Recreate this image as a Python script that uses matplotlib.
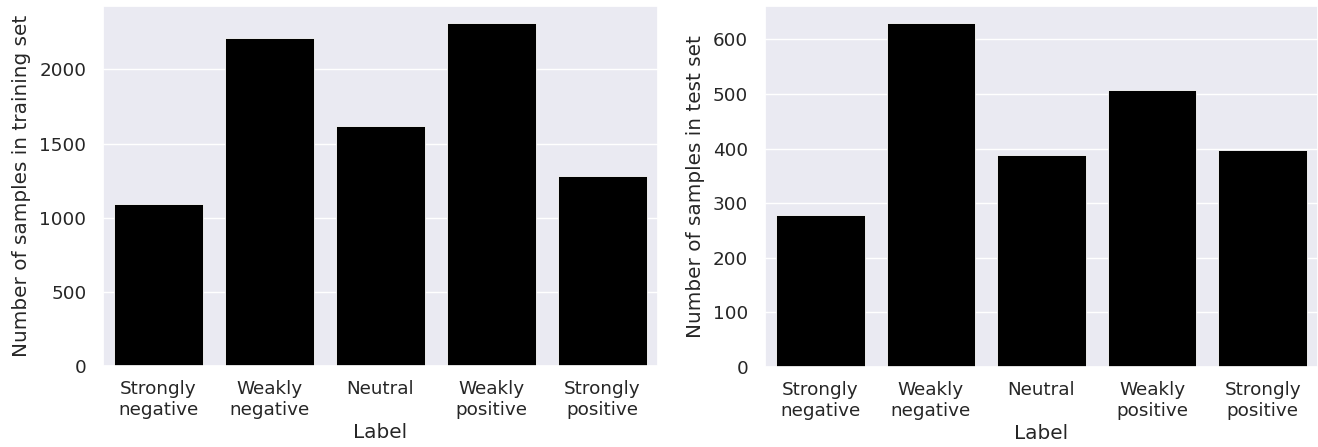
import matplotlib
matplotlib.use("Agg")
import matplotlib.pyplot as plt
import seaborn as sns

categories = ["Strongly\nnegative", "Weakly\nnegative", "Neutral", "Weakly\npositive", "Strongly\npositive"]
train_counts = [1090, 2212, 1616, 2313, 1282]
test_counts = [278, 630, 388, 507, 397]

sns.set_theme(style="darkgrid")
plt.rcParams['font.family'] = ['DejaVu Sans']

fig = plt.figure(figsize=(13.18, 4.47), dpi=100)
ax1 = fig.add_axes([0.0782, 0.181, 0.421, 0.806])
ax2 = fig.add_axes([0.5804, 0.179, 0.4196, 0.808])

base_pad = plt.rcParams['ytick.major.pad']

for ax, vals, ylab in [(ax1, train_counts, "Number of samples in training set"),
                       (ax2, test_counts, "Number of samples in test set")]:
    x = range(len(categories))
    ax.bar(x, vals, width=0.8, color="black", edgecolor="white", linewidth=0.6)
    ax.set_xticks(list(x))
    ax.set_xticklabels(categories, fontsize=13.2)
    ax.set_xlim(-0.5, len(categories) - 0.5)
    ax.tick_params(axis='y', labelsize=13.2, pad=base_pad + 2.5)
    ax.tick_params(axis='x', pad=base_pad + 0.8)
    ax.set_xlabel("Label", fontsize=14.4, labelpad=3)
    ax.set_ylabel(ylab, fontsize=14.4, labelpad=6)
    ax.grid(axis='x', visible=False)

fig.savefig("out.png", dpi=100)
